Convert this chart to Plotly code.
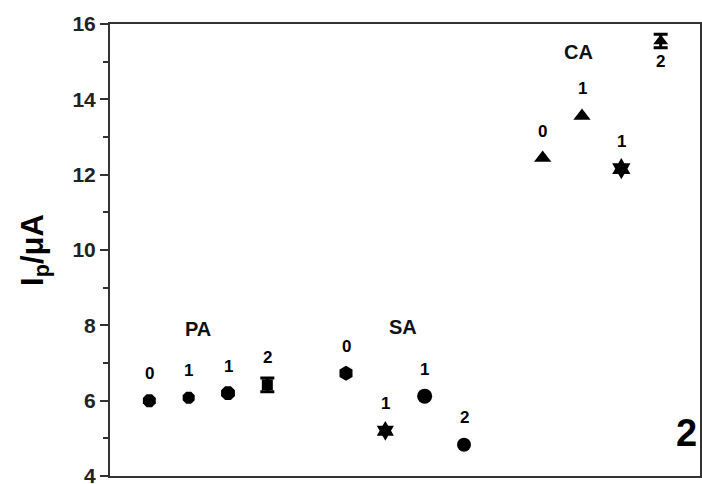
import plotly.graph_objects as go

# data
x_pos = [1, 2, 3, 4, 6, 7, 8, 9, 11, 12, 13, 14]
ip_values = [6.0, 6.08, 6.2, 6.42, 6.73, 5.2, 6.12, 4.83, 12.44, 13.56, 12.16, 15.55]
ip_err = [0, 0, 0, 0.18, 0, 0, 0, 0, 0, 0, 0, 0.18]
point_labels = ["0", "1", "1", "2", "0", "1", "1", "2", "0", "1", "1", "2"]
label_below = [False] * 11 + [True]
symbols = ["octagon", "octagon", "octagon", "square", "hexagon", "hexagram", "circle", "circle",
           "triangle-up", "triangle-up", "hexagram", "triangle-up"]
sizes = [14, 13, 15, 11, 15, 15, 15, 14, 15, 15, 16, 13]
groups = ["PA", "SA", "CA"]
group_x = [2.23, 7.44, 11.9]
group_y = [7.9, 7.96, 15.25]
y_ticks = [4, 6, 8, 10, 12, 14, 16]

fig = go.Figure()
err_idx = [i for i, e in enumerate(ip_err) if e > 0]
fig.add_trace(go.Scatter(
    x=[x_pos[i] for i in err_idx], y=[ip_values[i] for i in err_idx], mode="markers",
    marker=dict(size=1, color="black", opacity=0),
    error_y=dict(type="data", array=[ip_err[i] for i in err_idx], visible=True,
                 color="black", thickness=3, width=7),
    showlegend=False, hoverinfo="skip"))
fig.add_trace(go.Scatter(
    x=x_pos, y=ip_values, mode="markers",
    marker=dict(symbol=symbols, size=sizes, color="black", opacity=1, line=dict(width=0)),
    showlegend=False, hoverinfo="skip"))

for xv, yv, lab, below in zip(x_pos, ip_values, point_labels, label_below):
    fig.add_annotation(x=xv, y=yv, text="<b>" + lab + "</b>", showarrow=False,
                       yshift=-21 if below else 27,
                       font=dict(family="Liberation Sans, Arial", size=17, color="black"))

for g, gx, gy in zip(groups, group_x, group_y):
    fig.add_annotation(x=gx, y=gy, text="<b>" + g + "</b>", showarrow=False,
                       font=dict(family="Liberation Sans, Arial", size=20, color="#111"))

fig.add_annotation(x=0.998, y=0.045, xref="paper", yref="paper", xanchor="right", yanchor="bottom",
                   text="<b>2</b>", showarrow=False,
                   font=dict(family="Liberation Sans, Arial", size=38, color="black"))

fig.update_layout(
    width=702, height=484,
    margin=dict(l=110, r=2, t=24, b=8),
    plot_bgcolor="white", paper_bgcolor="white",
    font=dict(family="Liberation Sans, Arial", color="black"),
)
fig.update_xaxes(range=[0, 15], showticklabels=False, ticks="", showgrid=False, zeroline=False,
                 showline=True, linecolor="#333", linewidth=2, mirror=True, automargin=False)
fig.update_yaxes(range=[4, 16], tickvals=y_ticks, ticktext=["<b>%d</b>" % v for v in y_ticks],
                 ticks="outside", ticklen=8, tickwidth=1.5, tickcolor="#333",
                 minor=dict(ticks="outside", ticklen=5, tickwidth=1.5, tickcolor="#333", dtick=1),
                 tickfont=dict(size=21, color="#222"), ticklabeloverflow="allow", automargin=False,
                 showgrid=False, zeroline=False, showline=True, linecolor="#333", linewidth=2, mirror=True,
                 title=dict(text="<b>I<sub>p</sub>/μA</b>", font=dict(size=31, color="black"), standoff=20))

fig.write_html("out.html")
